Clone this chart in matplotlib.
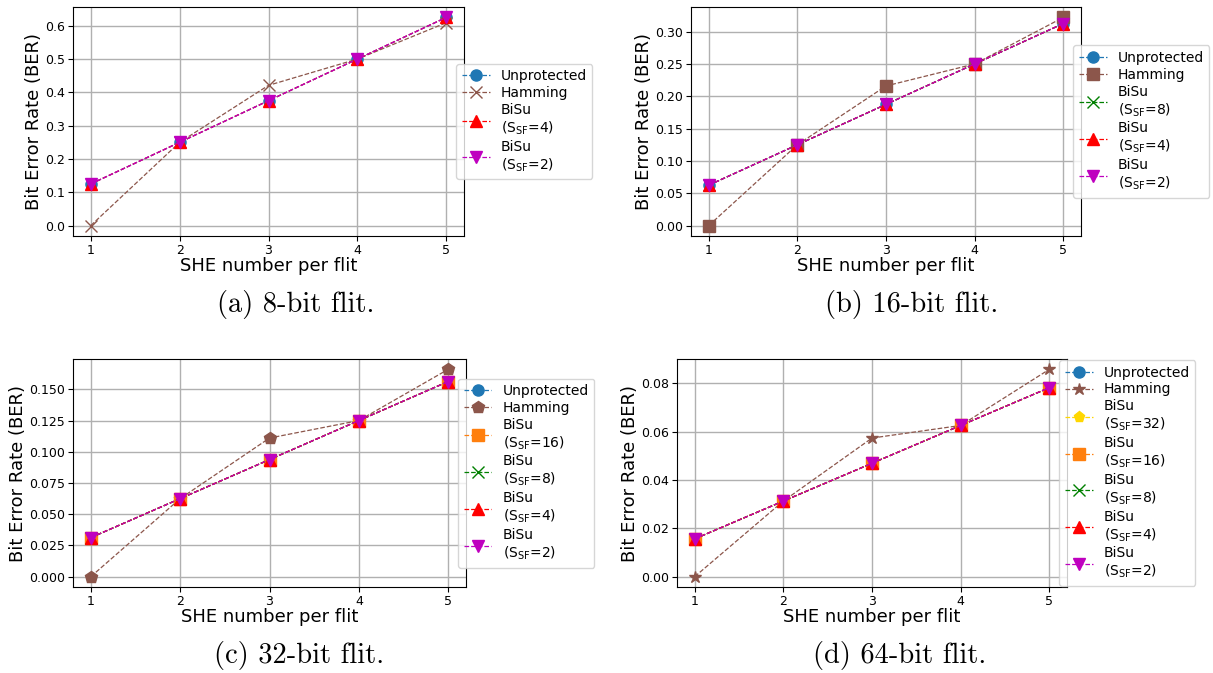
import numpy as np
import matplotlib
matplotlib.use('Agg')
import matplotlib.pyplot as plt

# SHE number per flit
she = [1, 2, 3, 4, 5]

# Unprotected / BiSu BER for each flit width
ber_8 = [0.125, 0.25, 0.375, 0.5, 0.625]
ber_16 = [0.0625, 0.125, 0.1875, 0.25, 0.3125]
ber_32 = [0.03125, 0.0625, 0.09375, 0.125, 0.15625]
ber_64 = [0.015625, 0.03125, 0.046875, 0.0625, 0.078125]

# Hamming BER for each flit width
ham_8 = [0.0, 0.25, 0.421, 0.5, 0.609]
ham_16 = [0.0, 0.125, 0.216, 0.25, 0.322]
ham_32 = [0.0, 0.0625, 0.111, 0.125, 0.166]
ham_64 = [0.0, 0.03125, 0.0573, 0.0625, 0.0857]

# BiSu shift factors per panel
sf_8 = [4, 2]
sf_16 = [8, 4, 2]
sf_32 = [16, 8, 4, 2]
sf_64 = [32, 16, 8, 4, 2]

captions = ['(a) 8-bit flit.', '(b) 16-bit flit.', '(c) 32-bit flit.', '(d) 64-bit flit.']

sf_style = {32: ('gold', 'p'), 16: ('tab:orange', 's'), 8: ('green', 'x'),
            4: ('red', '^'), 2: ('m', 'v')}
ham_marker = ['x', 's', 'p', '*']

W, H = 1213, 673
# axes boxes in pixels: left, right, top, bottom
boxes = [(73, 464, 7, 236), (691, 1081, 7, 236),
         (73, 466, 359, 587), (677, 1067, 359, 587)]
cap_pos = [(296, 305), (912, 305), (299, 655), (900, 655)]

fig = plt.figure(figsize=(W / 100, H / 100), dpi=100)

data = [(ber_8, ham_8, sf_8), (ber_16, ham_16, sf_16),
        (ber_32, ham_32, sf_32), (ber_64, ham_64, sf_64)]

for i, (ber, ham, sfs) in enumerate(data):
    l, r, t, b = boxes[i]
    ax = fig.add_axes([l / W, 1 - b / H, (r - l) / W, (b - t) / H])
    ax.plot(she, ber, '--', color='tab:blue', marker='o', lw=0.9, ms=8, label='Unprotected')
    ax.plot(she, ham, '--', color='tab:brown', marker=ham_marker[i], lw=0.9,
            ms=9 if ham_marker[i] != 'x' else 8, label='Hamming')
    for sf in sfs:
        c, m = sf_style[sf]
        ax.plot(she, ber, '--', color=c, marker=m, lw=0.9, ms=8,
                label='BiSu\n(S$_\\mathregular{SF}$=%d)' % sf)
    ax.set_xticks(she)
    ax.grid(True, color='#b0b0b0', lw=1)
    ax.tick_params(labelsize=9, pad=2.5)
    ax.set_xlabel('SHE number per flit', fontsize=13, labelpad=0)
    ax.set_ylabel('Bit Error Rate (BER)', fontsize=13, labelpad=1)
    ax.legend(loc='center left', bbox_to_anchor=(0.98, 0.5), fontsize=10,
              handlelength=2.0, labelspacing=0.2, borderpad=0.4,
              handletextpad=0.8, borderaxespad=0)
    x, y = cap_pos[i]
    fig.text(x / W, 1 - y / H, captions[i], fontsize=20.5, family='cmr10',
             ha='center', va='center')

fig.savefig('out.png', dpi=100)
